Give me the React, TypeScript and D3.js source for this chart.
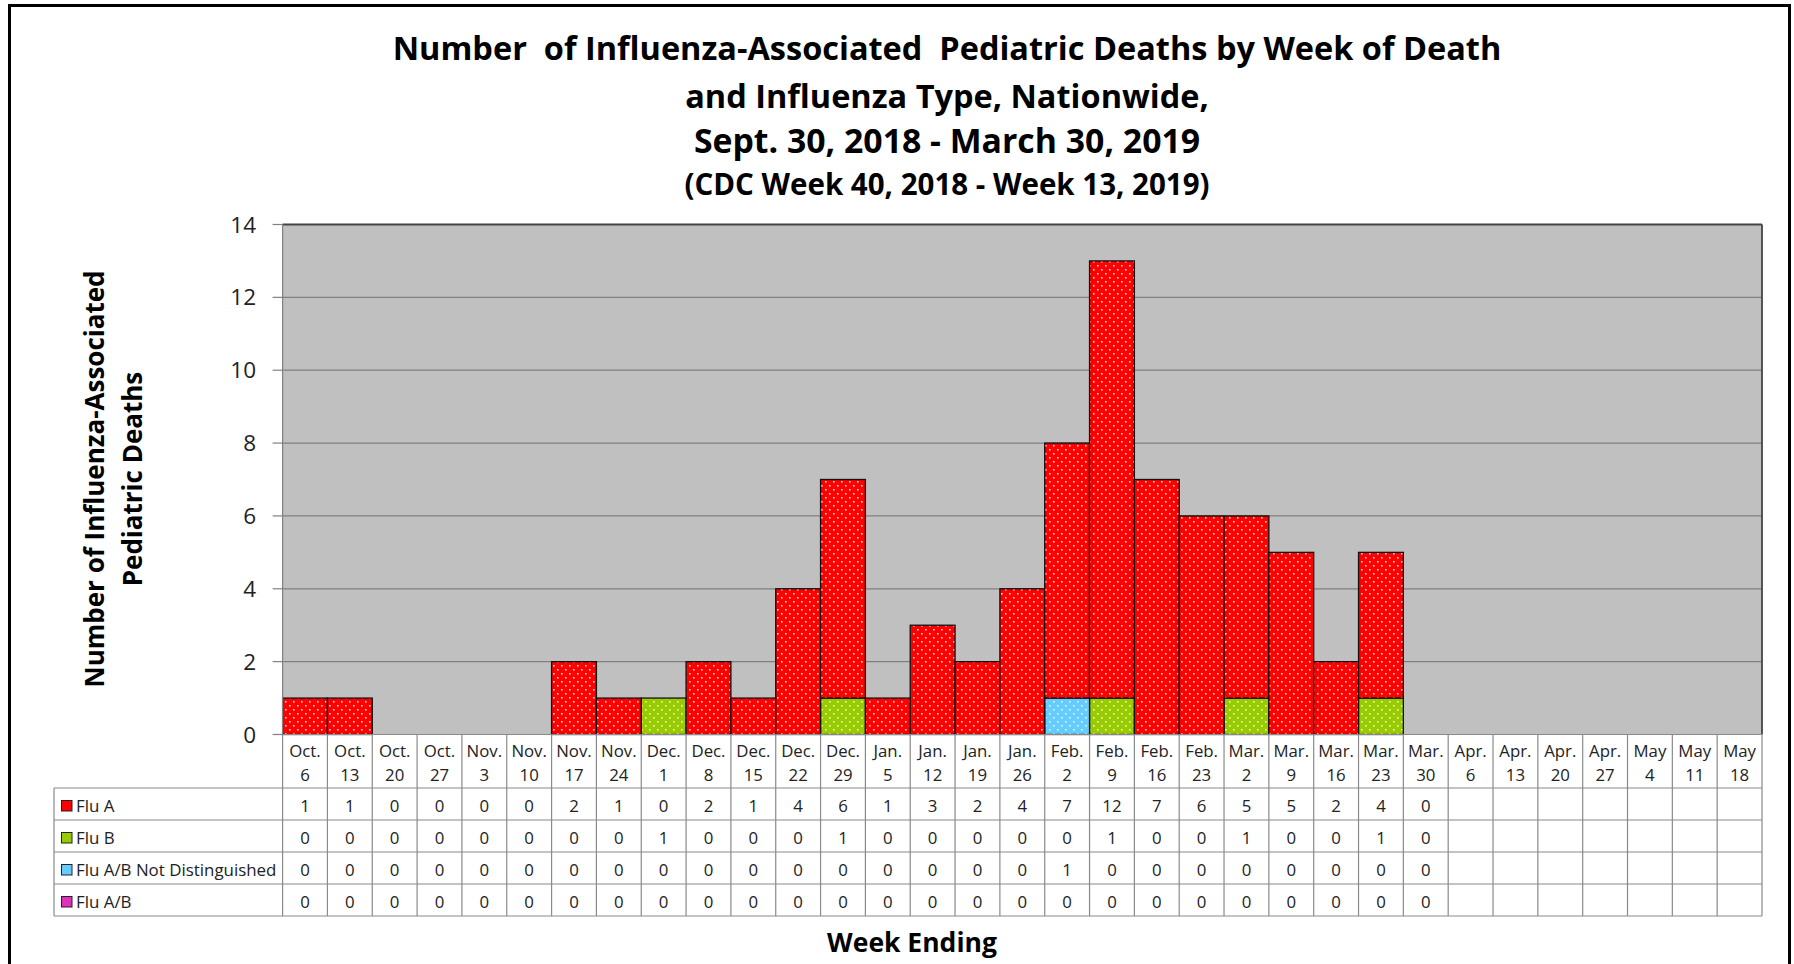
import React from "react";
import * as d3 from "d3";

const weeks = [
  "Oct. 6", "Oct. 13", "Oct. 20", "Oct. 27", "Nov. 3", "Nov. 10", "Nov. 17", "Nov. 24",
  "Dec. 1", "Dec. 8", "Dec. 15", "Dec. 22", "Dec. 29", "Jan. 5", "Jan. 12", "Jan. 19",
  "Jan. 26", "Feb. 2", "Feb. 9", "Feb. 16", "Feb. 23", "Mar. 2", "Mar. 9", "Mar. 16",
  "Mar. 23", "Mar. 30", "Apr. 6", "Apr. 13", "Apr. 20", "Apr. 27", "May 4", "May 11", "May 18",
];

const fluA = [1, 1, 0, 0, 0, 0, 2, 1, 0, 2, 1, 4, 6, 1, 3, 2, 4, 7, 12, 7, 6, 5, 5, 2, 4, 0];
const fluB = [0, 0, 0, 0, 0, 0, 0, 0, 1, 0, 0, 0, 1, 0, 0, 0, 0, 0, 1, 0, 0, 1, 0, 0, 1, 0];
const fluND = [0, 0, 0, 0, 0, 0, 0, 0, 0, 0, 0, 0, 0, 0, 0, 0, 0, 1, 0, 0, 0, 0, 0, 0, 0, 0];
const fluAB = [0, 0, 0, 0, 0, 0, 0, 0, 0, 0, 0, 0, 0, 0, 0, 0, 0, 0, 0, 0, 0, 0, 0, 0, 0, 0];

const yTicks = [0, 2, 4, 6, 8, 10, 12, 14];

const titleLines = [
  "Number  of Influenza-Associated  Pediatric Deaths by Week of Death",
  "and Influenza Type, Nationwide,",
  "Sept. 30, 2018 - March 30, 2019",
  "(CDC Week 40, 2018 - Week 13, 2019)",
];

const series = [
  { key: "fluA", label: "Flu A", values: fluA, color: "#FF0000" },
  { key: "fluB", label: "Flu B", values: fluB, color: "#99CC00" },
  { key: "fluND", label: "Flu A/B Not Distinguished", values: fluND, color: "#66CCFF" },
  { key: "fluAB", label: "Flu A/B", values: fluAB, color: "#DD33BB" },
];

const stackOrder = ["fluB", "fluND", "fluAB", "fluA"];

const FONT = "'Open Sans', 'Noto Sans', sans-serif";

export default function App() {
  const W = 1794, H = 964;
  const plotL = 282.6, plotR = 1762, plotT = 224.5, plotB = 734.5;

  const x = d3.scaleBand<string>().domain(weeks).range([plotL, plotR]).padding(0);
  const y = d3.scaleLinear().domain([0, 14]).range([plotB, plotT]);

  const rows = weeks.map((w, i) => {
    const r: any = { week: w };
    series.forEach((s) => (r[s.key] = s.values[i] ?? 0));
    return r;
  });
  const stacked = d3.stack<any>().keys(stackOrder)(rows);

  const headerB = 788;
  const rowH = 32;
  const tableL = 54;
  const bw = x.bandwidth();

  return (
    <svg width={W} height={H} style={{ position: "absolute", left: 0, top: 0, display: "block" }} fontFamily={FONT}>
      <defs>
        {series.map((s) => (
          <pattern key={s.key} id={"pat-" + s.key} width={8} height={8} patternUnits="userSpaceOnUse">
            <rect width={8} height={8} fill={s.color} />
            <rect x={1} y={1} width={1.6} height={1.6} fill="#fff" opacity={0.85} />
            <rect x={5} y={5} width={1.6} height={1.6} fill="#fff" opacity={0.85} />
          </pattern>
        ))}
      </defs>
      <rect x={0} y={0} width={W} height={H} fill="#fff" />
      <rect x={9.5} y={5.5} width={1780} height={980} fill="none" stroke="#000" strokeWidth={3} />

      {/* title */}
      {titleLines.map((t, i) => (
        <text
          key={i}
          x={947}
          y={[60, 108, 153, 195][i]}
          textAnchor="middle"
          fontWeight="bold"
          fontSize={[32.5, 32.5, 33.8, 29.5][i]}
          fill="#000"
          style={{ whiteSpace: "pre" }}
        >
          {t}
        </text>
      ))}

      {/* plot background */}
      <rect x={plotL} y={plotT} width={plotR - plotL} height={plotB - plotT} fill="#C0C0C0" />
      {yTicks.map((t) => (
        <g key={t}>
          {t > 0 && t < 14 && (
            <line x1={plotL} x2={plotR} y1={y(t)} y2={y(t)} stroke="#808080" strokeWidth={1.2} />
          )}
          <line x1={plotL - 10} x2={plotL} y1={y(t)} y2={y(t)} stroke="#808080" strokeWidth={1.2} />
          <text x={256} y={y(t) + 8} textAnchor="end" fontSize={22.5} fill="#222">
            {t}
          </text>
        </g>
      ))}

      {/* bars */}
      {stacked.map((layer) =>
        layer.map((d, i) => {
          if (d[1] - d[0] <= 0) return null;
          const w = weeks[i];
          return (
            <rect
              key={layer.key + i}
              x={x(w)}
              y={y(d[1])}
              width={bw}
              height={y(d[0]) - y(d[1])}
              fill={`url(#pat-${layer.key})`}
              stroke="#111"
              strokeWidth={1.3}
            />
          );
        })
      )}

      {/* plot border */}
      <line x1={plotL} x2={plotR} y1={plotT} y2={plotT} stroke="#444" strokeWidth={1.8} />
      <line x1={plotR} x2={plotR} y1={plotT} y2={plotB} stroke="#444" strokeWidth={1.8} />
      <line x1={plotL} x2={plotL} y1={plotT} y2={plotB} stroke="#808080" strokeWidth={1.2} />

      {/* data table */}
      <g stroke="#8a8a8a" strokeWidth={1.2}>
        <line x1={plotL} x2={plotR} y1={plotB} y2={plotB} />
        {[0, 1, 2, 3, 4].map((k) => (
          <line key={k} x1={tableL} x2={plotR} y1={headerB + k * rowH} y2={headerB + k * rowH} />
        ))}
        <line x1={tableL} x2={tableL} y1={headerB} y2={headerB + 4 * rowH} />
        {weeks.map((w) => (
          <line key={w} x1={x(w)} x2={x(w)} y1={plotB} y2={headerB + 4 * rowH} />
        ))}
        <line x1={plotR} x2={plotR} y1={plotB} y2={headerB + 4 * rowH} />
      </g>
      {weeks.map((w) => {
        const [m, d] = w.split(" ");
        const cx = (x(w) as number) + bw / 2;
        return (
          <g key={w} fontSize={16.8} fill="#222" textAnchor="middle">
            <text x={cx} y={757}>{m}</text>
            <text x={cx} y={781}>{d}</text>
          </g>
        );
      })}
      {series.map((s, k) => {
        const rowY = headerB + k * rowH;
        return (
          <g key={s.key}>
            <rect x={61.5} y={rowY + 12.5} width={10.5} height={10.5} fill={s.color} stroke="#222" strokeWidth={1} />
            <text x={76} y={rowY + 23.5} fontSize={16.9} fill="#222">
              {s.label}
            </text>
            {s.values.map((v, i) => (
              <text
                key={i}
                x={(x(weeks[i]) as number) + bw / 2}
                y={rowY + 23.5}
                fontSize={16.8}
                fill="#222"
                textAnchor="middle"
              >
                {v}
              </text>
            ))}
          </g>
        );
      })}

      {/* axis titles */}
      <text x={912} y={952} textAnchor="middle" fontWeight="bold" fontSize={26.5} fill="#000">
        Week Ending
      </text>
      <g transform="translate(0,479) rotate(-90)" textAnchor="middle" fontWeight="bold" fontSize={26} fill="#000">
        <text x={0} y={104}>Number of Influenza-Associated</text>
        <text x={0} y={142}>Pediatric Deaths</text>
      </g>
    </svg>
  );
}
